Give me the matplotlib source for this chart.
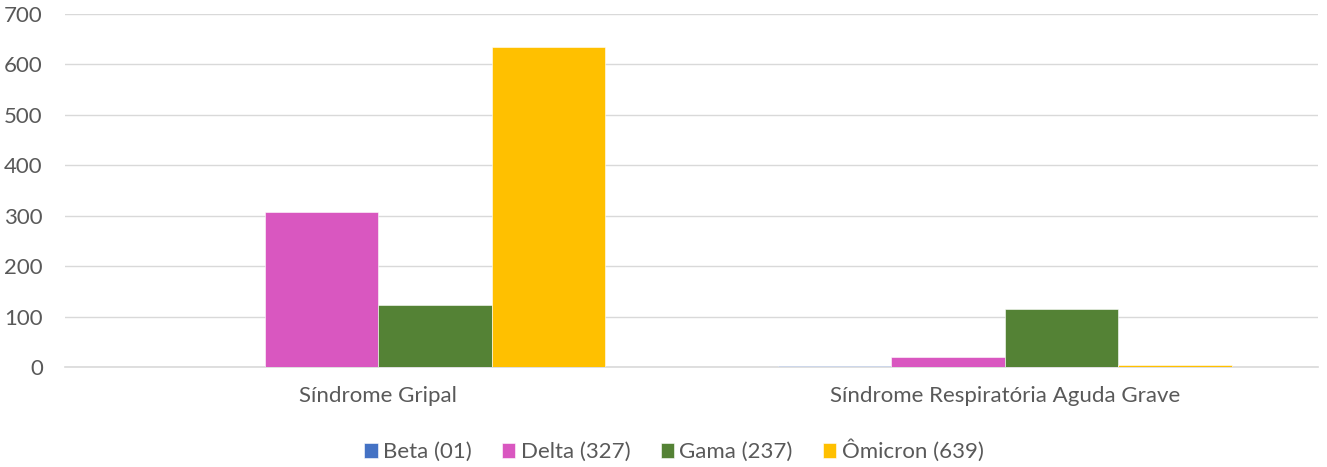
import matplotlib.pyplot as plt
import numpy as np

categories = ["Síndrome Gripal", "Síndrome Respiratória Aguda Grave"]
series_names = ["Beta (01)", "Delta (327)", "Gama (237)", "Ômicron (639)"]
beta = [0, 1]
delta = [308, 19]
gama = [122, 115]
omicron = [635, 4]
y_ticks = [0, 100, 200, 300, 400, 500, 600, 700]

colors = ["#4472C4", "#D957C0", "#548235", "#FFC000"]
text_color = "#595959"
grid_color = "#D9D9D9"

plt.rcParams['font.family'] = ['Lato', 'DejaVu Sans']

fig = plt.figure(figsize=(13.27, 4.67), dpi=100)
ax = fig.add_axes([65 / 1327, 1 - 367 / 467, 1253 / 1327, 353 / 467])

x = np.arange(len(categories))
width = 0.1813
all_series = [beta, delta, gama, omicron]
for i, (vals, name) in enumerate(zip(all_series, series_names)):
    offset = (i - 1.5) * width
    ax.bar(x + offset, vals, width, color=colors[i], label=name,
           edgecolor="white", linewidth=0.4, zorder=3)

ax.set_xlim(-0.5, 1.5)
ax.set_ylim(0, 700)
ax.set_yticks(y_ticks)
ax.set_xticks(x)
ax.set_xticklabels(categories)
ax.tick_params(axis='y', length=0, pad=16, labelsize=16, labelcolor=text_color)
ax.tick_params(axis='x', length=0, pad=14, labelsize=16, labelcolor=text_color)
ax.grid(axis='y', color=grid_color, linewidth=1, zorder=0)
for s in ["top", "right", "left"]:
    ax.spines[s].set_visible(False)
ax.spines["bottom"].set_color(grid_color)
ax.spines["bottom"].set_linewidth(1.2)

leg = fig.legend(loc="center", bbox_to_anchor=(674 / 1327, 1 - 451 / 467), ncol=4,
                 frameon=False, fontsize=16, handlelength=0.6, handleheight=0.6,
                 handletextpad=0.25, columnspacing=1.35)
for t in leg.get_texts():
    t.set_color(text_color)

fig.savefig("out.png", dpi=100)
